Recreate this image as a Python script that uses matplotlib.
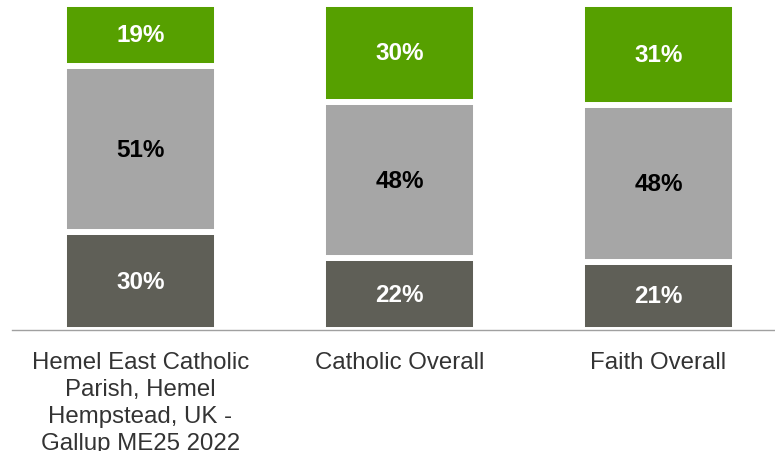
import matplotlib
matplotlib.use("Agg")
import matplotlib.pyplot as plt
import numpy as np

plt.rcParams['font.family'] = ['Liberation Sans', 'DejaVu Sans']

categories = ["Hemel East Catholic\nParish, Hemel\nHempstead, UK -\nGallup ME25 2022",
              "Catholic Overall", "Faith Overall"]
bottom_vals = [30, 22, 21]
middle_vals = [51, 48, 48]
top_vals = [19, 30, 31]

colors = ["#5f5f57", "#a6a6a6", "#56a000"]
text_colors = ["white", "black", "white"]

W, H = 775, 452
fig = plt.figure(figsize=(W / 100, H / 100), dpi=100)
ax = fig.add_axes([12 / W, (H - 331) / H, (W - 12) / W, 326 / H])

x = np.arange(len(categories))
series = [bottom_vals, middle_vals, top_vals]
base = np.zeros(len(categories))
for vals, col, tcol in zip(series, colors, text_colors):
    vals = np.array(vals, dtype=float)
    ax.bar(x, vals, bottom=base, width=0.59, color=col, edgecolor="white", linewidth=4.3)
    for xi, b, v in zip(x, base, vals):
        ax.text(xi, b + v / 2, f"{int(v)}%", ha="center", va="center",
                fontsize=17.5, fontweight="bold", color=tcol)
    base += vals

ax.set_ylim(0, 100)
ax.set_xlim(-128.5 / 259, 2 + (W - 658.5) / 259)
for s in ["top", "right", "left"]:
    ax.spines[s].set_visible(False)
ax.spines["bottom"].set_color("#a0a0a0")
ax.spines["bottom"].set_linewidth(1.0)
ax.set_yticks([])
ax.set_xticks(x)
ax.set_xticklabels(categories, fontsize=17.3, color="#333333", linespacing=1.3, va="top")
ax.tick_params(axis="x", length=0, pad=15)

fig.savefig("out.png", dpi=100)
